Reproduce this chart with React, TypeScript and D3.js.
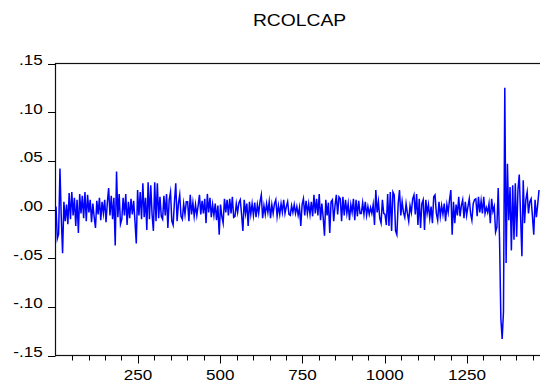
import React from "react";
import * as d3 from "d3";

// Chart title
const title = "RCOLCAP";

// Y axis ticks (values in thousandths, i.e. 0.001 units) and labels
const yTicks = [-150, -100, -50, 0, 50, 100, 150];
const yTickLabels = ["-.15", "-.10", "-.05", ".00", ".05", ".10", ".15"];

// X axis ticks (observation number)
const xMajorTicks = [250, 500, 750, 1000, 1250];
const xMajorLabels = ["250", "500", "750", "1000", "1250"];
const xMinorTicks = [50, 100, 150, 200, 250, 300, 350, 400, 450, 500, 550, 600, 650, 700, 750, 800, 850, 900, 950, 1000, 1050, 1100, 1150, 1200, 1250, 1300, 1350, 1400, 1450];

// Sample range and spacing of the values
const nObs = 1472;
const obsStep = 4;

const seg1 = [3, -30, -25, 42, -8, -45, 8, -12, 5, -15, 17, -10, 18, -6, 12, -17, 10, -24, 16, -4, 14, -9, 18, -12, 15, -3, 10, -13, 6, -8, -19, 9, -5, 12, -11, 8, -4, 10, -13, 7, 22, -6, 14, -10, 12, -37, 39, -8, 16, -15];
const seg2 = [-10, 12, -6, 16, -16, 8, -9, 11, -5, 9, -12, -35, 20, -6, 18, -10, 27, -8, 12, -21, 28, -10, 25, -5, -22, 28, -12, 27, -9, 13, -7, -10, 14, -6, 16, -19, 10, 18, -12, -16, 8, 27, -12, 6, 15, -7, -10, 6, -5, 8];
const seg3 = [8, -12, 15, -5, 7, -7, 5, -6, 4, 15, -5, 9, -4, 11, -14, 16, -3, 12, -8, 5, -6, 6, -11, 4, -26, 5, -7, -14, 11, -3, 10, -6, 11, -4, 13, -8, -7, 6, -3, 7, 10, -5, -22, 10, -4, 6, -17, 8, -5, 6];
const seg4 = [-6, 7, -8, 5, -4, 8, 15, -9, 4, -5, 6, -3, 8, -9, 5, -4, 6, 10, -7, 4, -5, 6, -3, 10, -4, 3, 8, -5, -6, 4, -3, 5, -4, 3, -6, 2, -17, 5, 11, -6, 9, -4, 6, -5, 8, -7, 15, -4, 11, -6];
const seg5 = [16, -11, 6, -8, -27, 10, -6, 7, -24, 8, 10, -12, 4, 15, -5, 13, 11, -12, 13, -6, 10, -4, 6, -11, 5, -3, 11, -11, 10, -7, 9, -4, -4, 7, -5, 8, -6, 3, -5, 2, -4, 5, -16, 20, -3, 8, -9, -14, 10, -4];
const seg6 = [-5, -16, 16, -17, 18, -22, 18, 15, -22, -26, 6, 20, -6, 8, -3, -8, 6, -4, -12, 4, -3, 11, 15, -5, 16, -16, 11, -19, 6, 10, -21, 10, -4, 5, -9, 3, -14, 13, 15, -4, -11, 8, -7, 4, -5, 6, -12, 5, -3, 10];
const seg7 = [20, -26, 8, -14, 5, -6, 13, -7, 4, 10, -9, 8, -6, 3, 11, -4, -11, 6, 10, 11, -7, 13, -3, 9, -4, 13, -4, 2, -3, 6, -14, 11, -2, 3, -23, -18, 22, -30, -112, -133, -105, 125, -55, 47, -11, 23, -42, 25, -31, 27];
const seg8 = [-28, 20, 36, -7, -48, 30, -14, 10, 18, -4, 8, 11, -7, -26, 10, -8, 5, 20];

const series = [seg1, seg2, seg3, seg4, seg5, seg6, seg7, seg8].flat();

const FONT = "'Liberation Sans', Arial, Helvetica, sans-serif";

export default function App() {
  const W = 540;
  const H = 389;
  const frameLeft = 55.5;
  const frameRight = 541;
  const frameTop = 63.5;
  const frameBottom = 355.5;

  const x = d3.scaleLinear().domain([1, nObs]).range([56, 540]);
  const y = d3.scaleLinear().domain([-150, 150]).range([frameBottom, frameTop]);

  const data = series.map((v, i) => ({ obs: 1 + i * obsStep, v }));
  const line = d3
    .line<{ obs: number; v: number }>()
    .x((d) => x(d.obs))
    .y((d) => y(d.v));

  const sx = 1.22;

  return (
    <svg
      width={W}
      height={H}
      style={{ position: "absolute", left: 0, top: 0, background: "#fff" }}
    >
      <rect x={0} y={0} width={W} height={H} fill="#fff" />
      {/* title */}
      <g transform={`translate(299.5,25.7) scale(1.17,1)`}>
        <text textAnchor="middle" fontFamily={FONT} fontSize={16.5} fill="#000">
          {title}
        </text>
      </g>

      {/* data line */}
      <path d={line(data) || ""} fill="none" stroke="#0000ff" strokeWidth={1.5} strokeLinejoin="miter" strokeMiterlimit={10} />

      {/* frame */}
      <rect
        x={frameLeft}
        y={frameTop}
        width={frameRight - frameLeft}
        height={frameBottom - frameTop}
        fill="none"
        stroke="#111"
        strokeWidth={1.2}
      />

      {/* y ticks */}
      {yTicks.map((t, i) => (
        <g key={"y" + t}>
          <line x1={48} x2={frameLeft} y1={Math.round(y(t)) + 0.5} y2={Math.round(y(t)) + 0.5} stroke="#000" strokeWidth={1} />
          <g transform={`translate(42.7,${y(t) + 1.5}) scale(${sx},1)`}>
            <text textAnchor="end" fontFamily={FONT} fontSize={14} fill="#000">
              {yTickLabels[i]}
            </text>
          </g>
        </g>
      ))}

      {/* x minor ticks */}
      {xMinorTicks.map((t) => (
        <line
          key={"xm" + t}
          x1={Math.round(x(t)) + 0.5}
          x2={Math.round(x(t)) + 0.5}
          y1={frameBottom}
          y2={frameBottom + 5}
          stroke="#000"
          strokeWidth={1}
        />
      ))}

      {/* x major ticks */}
      {xMajorTicks.map((t, i) => (
        <g key={"xM" + t}>
          <line
            x1={Math.round(x(t)) + 0.5}
            x2={Math.round(x(t)) + 0.5}
            y1={frameBottom}
            y2={frameBottom + 8}
            stroke="#000"
            strokeWidth={1}
          />
          <g transform={`translate(${x(t)},380) scale(${sx},1)`}>
            <text textAnchor="middle" fontFamily={FONT} fontSize={14} fill="#000">
              {xMajorLabels[i]}
            </text>
          </g>
        </g>
      ))}
    </svg>
  );
}
